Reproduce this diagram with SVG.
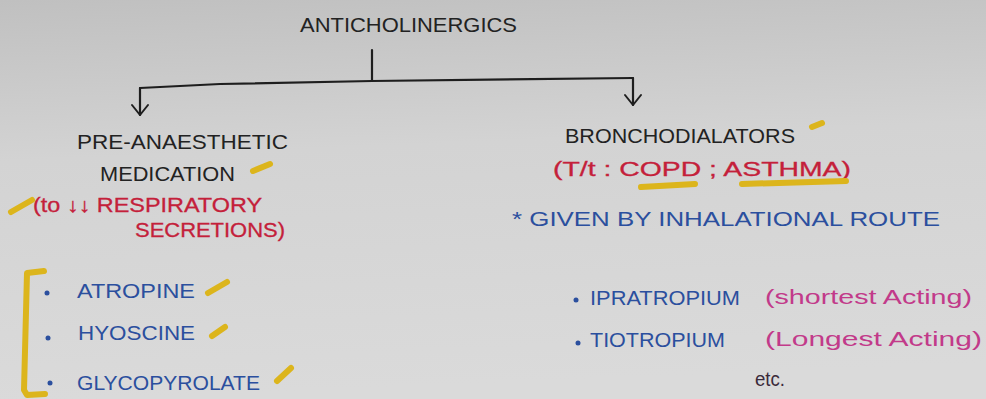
<svg xmlns="http://www.w3.org/2000/svg" width="986" height="399" viewBox="0 0 986 399">
<defs>
<linearGradient id="bg" x1="0" y1="0" x2="0.1" y2="1">
<stop offset="0" stop-color="#c0c0c0"/>
<stop offset="0.4" stop-color="#d3d3d3"/>
<stop offset="1" stop-color="#dadada"/>
</linearGradient>
<marker id="arr" viewBox="0 0 20 20" refX="18" refY="10" markerWidth="20" markerHeight="20" markerUnits="userSpaceOnUse" orient="auto">
<polyline points="8,2 18,10 8,18" fill="none" stroke="#1e1e1e" stroke-width="2" stroke-linecap="round" stroke-linejoin="round"/>
</marker>
<style>
text{font-family:"Liberation Sans","DejaVu Sans",Arial,sans-serif;}
.k{fill:#222;font-size:21px;}
.r{fill:#c4203a;stroke:#c4203a;stroke-width:0.3;font-size:20px;}
.b{fill:#2b4f9e;font-size:21px;}
.m{fill:#c23a8a;font-size:20px;}
.e{fill:#3a2a3a;font-size:20px;}
.ln{fill:none;stroke:#1e1e1e;stroke-width:2.2;stroke-linecap:round;}
.y{fill:none;stroke:#dcb51c;stroke-width:6;stroke-linecap:round;stroke-linejoin:round;}
.dot{fill:#2b4f9e;}
</style>
</defs>
<rect width="986" height="399" fill="url(#bg)"/>

<g id="connectors">
<line class="ln" x1="372" y1="50" x2="372" y2="80"/>
<polyline class="ln" points="140,88 200,85 220,84 372,81 633,78"/>
<line class="ln" x1="140" y1="88" x2="140" y2="115" marker-end="url(#arr)"/>
<line class="ln" x1="633" y1="78" x2="633" y2="105" marker-end="url(#arr)"/>
</g>

<g id="anticholinergics">
<text class="k" x="300" y="32" textLength="217" lengthAdjust="spacingAndGlyphs">ANTICHOLINERGICS</text>
</g>

<g id="pre-anaesthetic">
<text class="k" x="77" y="149" textLength="211" lengthAdjust="spacingAndGlyphs">PRE-ANAESTHETIC</text>
<text class="k" x="100" y="181" textLength="135" lengthAdjust="spacingAndGlyphs">MEDICATION</text>
<path class="y" d="M253,171 L270,164"/>
<text class="r" x="33" y="212" textLength="229" lengthAdjust="spacingAndGlyphs">(to ↓↓ RESPIRATORY</text>
<text class="r" x="135" y="237" textLength="150" lengthAdjust="spacingAndGlyphs">SECRETIONS)</text>
<path class="y" d="M11,212 L32,200"/>
</g>

<g id="bronchodilators">
<text class="k" x="565" y="143" textLength="230" lengthAdjust="spacingAndGlyphs">BRONCHODIALATORS</text>
<path class="y" d="M812,127 L822,123"/>
<text class="r" x="553" y="176" textLength="298" lengthAdjust="spacingAndGlyphs">(T/t : COPD ; ASTHMA)</text>
<path class="y" d="M641,187 L695,184"/>
<path class="y" d="M742,184 L846,181"/>
<text class="b" x="512" y="226" textLength="428" lengthAdjust="spacingAndGlyphs">* GIVEN BY INHALATIONAL ROUTE</text>
</g>

<g id="pre-anaesthetic-drugs">
<path class="y" d="M44,271 L27,273 L24,390 L27,395 L45,394"/>
<circle class="dot" cx="47" cy="293" r="2.5"/>
<text class="b" x="77" y="298" textLength="118" lengthAdjust="spacingAndGlyphs">ATROPINE</text>
<path class="y" d="M208,293 L227,282"/>
<circle class="dot" cx="48" cy="338" r="2.5"/>
<text class="b" x="78" y="340" textLength="117" lengthAdjust="spacingAndGlyphs">HYOSCINE</text>
<path class="y" d="M212,336 L225,327"/>
<circle class="dot" cx="50" cy="383" r="2.5"/>
<text class="b" x="77" y="390" textLength="183" lengthAdjust="spacingAndGlyphs">GLYCOPYROLATE</text>
<path class="y" d="M277,381 L291,368"/>
</g>

<g id="bronchodilator-drugs">
<circle class="dot" cx="576" cy="300" r="2.5"/>
<text class="b" x="590" y="305" textLength="150" lengthAdjust="spacingAndGlyphs">IPRATROPIUM</text>
<text class="m" x="765" y="304" textLength="207" lengthAdjust="spacingAndGlyphs">(shortest Acting)</text>
<circle class="dot" cx="578" cy="343" r="2.5"/>
<text class="b" x="590" y="347" textLength="135" lengthAdjust="spacingAndGlyphs">TIOTROPIUM</text>
<text class="m" x="765" y="346" textLength="217" lengthAdjust="spacingAndGlyphs">(Longest Acting)</text>
<text class="e" x="755" y="386" textLength="30" lengthAdjust="spacingAndGlyphs">etc.</text>
</g>
</svg>
